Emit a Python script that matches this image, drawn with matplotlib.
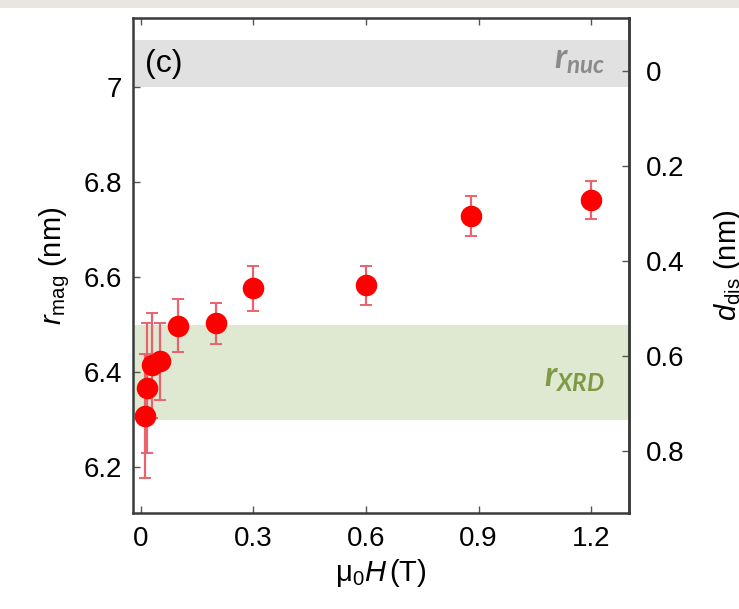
import matplotlib
matplotlib.use("Agg")
import matplotlib.pyplot as plt
from matplotlib.patches import Rectangle

plt.rcParams['font.family'] = ['Liberation Sans', 'DejaVu Sans']
plt.rcParams['mathtext.fontset'] = 'custom'
plt.rcParams['mathtext.rm'] = 'Liberation Sans'
plt.rcParams['mathtext.it'] = 'Liberation Sans:italic'
plt.rcParams['mathtext.bfit'] = 'Lato:italic:bold'

# Applied field (T) and magnetic radius (nm) with uncertainties
field = [0.01, 0.017, 0.03, 0.05, 0.1, 0.2, 0.3, 0.6, 0.88, 1.2]
r_mag = [6.308, 6.368, 6.415, 6.423, 6.498, 6.503, 6.577, 6.583, 6.730, 6.762]
r_err = [0.130, 0.137, 0.110, 0.082, 0.056, 0.043, 0.048, 0.041, 0.042, 0.040]

# Reference bands (nm)
r_nuc_band = [7.0, 7.1]
r_xrd_band = [6.3, 6.5]
r_nuc_ref = 7.035

x_ticks = [0, 0.3, 0.6, 0.9, 1.2]
x_ticklabels = ["0", "0.3", "0.6", "0.9", "1.2"]
y_ticks = [6.2, 6.4, 6.6, 6.8, 7.0]
y_ticklabels = ["6.2", "6.4", "6.6", "6.8", "7"]
d_ticks = [0, 0.2, 0.4, 0.6, 0.8]
d_ticklabels = ["0", "0.2", "0.4", "0.6", "0.8"]

fig = plt.figure(figsize=(7.39, 6.09), dpi=100)
fig.patches.append(Rectangle((0, 1 - 8 / 609), 1, 8 / 609, transform=fig.transFigure,
                             facecolor="#e9e5e0", edgecolor="none", zorder=0))
ax = fig.add_axes([133 / 739, 1 - 513 / 609, 496 / 739, 495 / 609])

ax.axhspan(r_nuc_band[0], r_nuc_band[1], color="#e1e1e1", lw=0, zorder=0)
ax.axhspan(r_xrd_band[0], r_xrd_band[1], color="#dfe8d0", lw=0, zorder=0)

ax.errorbar(field, r_mag, yerr=r_err, fmt="o", color="#ff0000", ms=14.5,
            ecolor="#e8636d", elinewidth=1.6, capsize=4.5, capthick=1.4, zorder=3)

ax.set_xlim(-0.021, 1.301)
ax.set_ylim(6.104, 7.146)
ax.set_xticks(x_ticks, x_ticklabels)
ax.set_yticks(y_ticks, y_ticklabels)

for s in ax.spines.values():
    s.set_color("#3a3a3a")
    s.set_linewidth(1.8)
ax.tick_params(axis="both", direction="in", length=5, width=1, color="#555555",
               labelsize=20, pad=9, top=True)
ax.tick_params(axis="y", pad=8)

sec = ax.secondary_yaxis("right", functions=(lambda r: r_nuc_ref - r, lambda d: r_nuc_ref - d))
sec.set_yticks(d_ticks, d_ticklabels)
sec.spines["right"].set_color("#3a3a3a")
sec.spines["right"].set_linewidth(1.8)
sec.tick_params(direction="in", length=5, width=1, color="#555555", labelsize=20, pad=12)
sec.set_ylabel(r"$d_\mathrm{dis}$ (nm)", fontsize=21, labelpad=20)

ax.set_ylabel(r"$r_\mathrm{mag}$ (nm)", fontsize=21, labelpad=8)
ax.set_xlabel(r"$\mathrm{\mu_0}H\,$(T)", fontsize=21, labelpad=4)

ax.text(0.012, 7.05, "(c)", fontsize=23, va="center", ha="left", zorder=4)
ax.text(1.238, 7.058, r"$\mathbfit{r}_{\mathbfit{nuc}}$", fontsize=25, va="center", ha="right",
        color="#8a8a8a", zorder=4)
ax.text(1.238, 6.39, r"$\mathbfit{r}_{\mathbfit{XRD}}$", fontsize=25, va="center", ha="right",
        color="#7e9a44", zorder=4)

fig.savefig("out.png", dpi=100)
